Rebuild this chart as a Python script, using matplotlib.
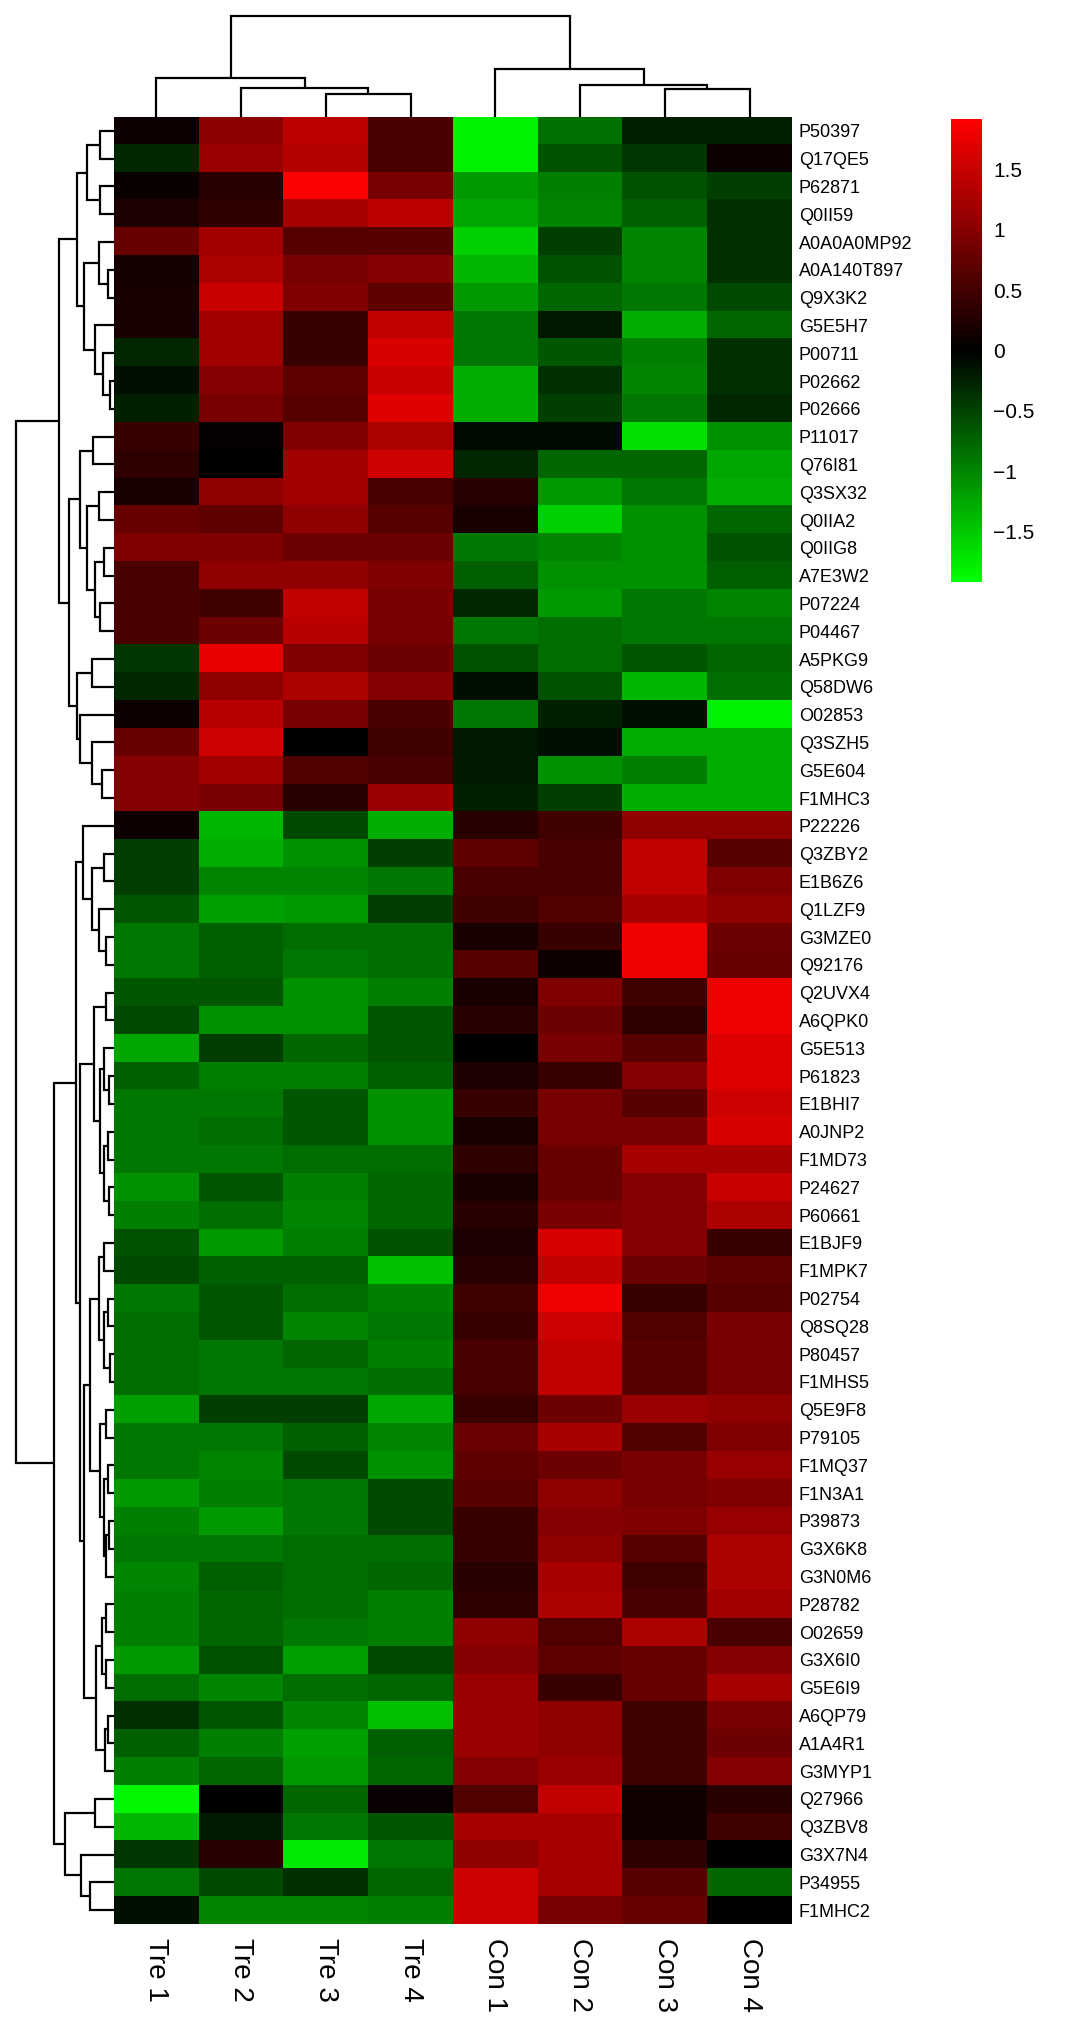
import numpy as np
import matplotlib
matplotlib.use("Agg")
import matplotlib.pyplot as plt
from matplotlib.colors import LinearSegmentedColormap

plt.rcParams['font.family'] = ['Liberation Sans', 'DejaVu Sans']

# ---------------- data ----------------
samples = ['Tre 1', 'Tre 2', 'Tre 3', 'Tre 4', 'Con 1', 'Con 2', 'Con 3', 'Con 4']

proteins = ['P50397', 'Q17QE5', 'P62871', 'Q0II59', 'A0A0A0MP92', 'A0A140T897', 'Q9X3K2',
            'G5E5H7', 'P00711', 'P02662', 'P02666', 'P11017', 'Q76I81', 'Q3SX32', 'Q0IIA2',
            'Q0IIG8', 'A7E3W2', 'P07224', 'P04467', 'A5PKG9', 'Q58DW6', 'O02853', 'Q3SZH5',
            'G5E604', 'F1MHC3', 'P22226', 'Q3ZBY2', 'E1B6Z6', 'Q1LZF9', 'G3MZE0', 'Q92176',
            'Q2UVX4', 'A6QPK0', 'G5E513', 'P61823', 'E1BHI7', 'A0JNP2', 'F1MD73', 'P24627',
            'P60661', 'E1BJF9', 'F1MPK7', 'P02754', 'Q8SQ28', 'P80457', 'F1MHS5', 'Q5E9F8',
            'P79105', 'F1MQ37', 'F1N3A1', 'P39873', 'G3X6K8', 'G3N0M6', 'P28782', 'O02659',
            'G3X6I0', 'G5E6I9', 'A6QP79', 'A1A4R1', 'G3MYP1', 'Q27966', 'Q3ZBV8', 'G3X7N4',
            'P34955', 'F1MHC2']

values = [
    [0.10, 1.05, 1.40, 0.55, -1.80, -0.85, -0.25, -0.25],
    [-0.30, 1.15, 1.35, 0.55, -1.80, -0.60, -0.42, 0.10],
    [0.08, 0.30, 1.90, 0.90, -1.15, -0.95, -0.60, -0.48],
    [0.22, 0.35, 1.25, 1.40, -1.25, -1.00, -0.72, -0.35],
    [0.78, 1.20, 0.65, 0.65, -1.55, -0.48, -1.00, -0.35],
    [0.15, 1.30, 0.90, 1.00, -1.38, -0.60, -1.00, -0.35],
    [0.18, 1.50, 0.95, 0.72, -1.15, -0.78, -0.90, -0.55],
    [0.18, 1.20, 0.42, 1.45, -0.90, -0.18, -1.30, -0.78],
    [-0.30, 1.20, 0.42, 1.62, -0.90, -0.65, -0.95, -0.35],
    [-0.12, 1.00, 0.72, 1.50, -1.30, -0.35, -1.00, -0.35],
    [-0.25, 0.90, 0.65, 1.68, -1.30, -0.48, -0.90, -0.30],
    [0.42, 0.05, 0.95, 1.30, -0.08, -0.08, -1.68, -1.08],
    [0.35, 0.00, 1.20, 1.55, -0.30, -0.78, -0.78, -1.25],
    [0.18, 1.08, 1.20, 0.55, 0.30, -1.15, -0.90, -1.30],
    [0.78, 0.72, 1.08, 0.65, 0.18, -1.55, -1.08, -0.78],
    [0.95, 0.95, 0.82, 0.82, -0.90, -1.00, -1.08, -0.60],
    [0.55, 1.08, 1.08, 0.95, -0.72, -1.08, -1.08, -0.72],
    [0.55, 0.48, 1.45, 0.90, -0.30, -1.15, -0.90, -1.00],
    [0.55, 0.82, 1.38, 0.90, -0.90, -0.82, -0.90, -0.90],
    [-0.42, 1.75, 0.95, 0.82, -0.60, -0.82, -0.65, -0.78],
    [-0.30, 1.08, 1.30, 1.00, -0.12, -0.60, -1.38, -0.82],
    [0.10, 1.38, 0.90, 0.55, -0.90, -0.25, -0.12, -1.80],
    [0.78, 1.55, 0.00, 0.48, -0.18, -0.12, -1.30, -1.30],
    [1.00, 1.20, 0.60, 0.55, -0.18, -1.08, -0.95, -1.30],
    [1.00, 0.90, 0.30, 1.15, -0.25, -0.48, -1.30, -1.30],
    [0.10, -1.38, -0.55, -1.30, 0.30, 0.48, 1.08, 1.08],
    [-0.48, -1.30, -1.08, -0.48, 0.72, 0.55, 1.45, 0.65],
    [-0.48, -1.00, -1.00, -0.90, 0.55, 0.55, 1.45, 0.95],
    [-0.65, -1.20, -1.15, -0.48, 0.48, 0.60, 1.25, 1.08],
    [-0.90, -0.72, -0.82, -0.82, 0.18, 0.42, 1.80, 0.82],
    [-0.90, -0.72, -0.90, -0.82, 0.65, 0.10, 1.80, 0.78],
    [-0.65, -0.65, -1.08, -0.95, 0.18, 0.95, 0.48, 1.80],
    [-0.55, -1.08, -1.08, -0.65, 0.30, 0.82, 0.35, 1.80],
    [-1.25, -0.48, -0.78, -0.65, 0.00, 0.90, 0.65, 1.68],
    [-0.72, -0.95, -0.95, -0.72, 0.22, 0.42, 1.00, 1.68],
    [-0.90, -0.90, -0.65, -1.08, 0.42, 0.90, 0.65, 1.55],
    [-0.90, -0.82, -0.65, -1.08, 0.18, 0.90, 0.90, 1.62],
    [-0.90, -0.90, -0.82, -0.82, 0.35, 0.78, 1.25, 1.25],
    [-1.08, -0.65, -0.95, -0.78, 0.18, 0.78, 1.00, 1.50],
    [-0.95, -0.82, -1.00, -0.78, 0.30, 0.90, 1.00, 1.30],
    [-0.60, -1.15, -0.95, -0.60, 0.22, 1.62, 1.00, 0.42],
    [-0.55, -0.72, -0.72, -1.45, 0.30, 1.45, 0.82, 0.72],
    [-0.90, -0.65, -0.82, -0.95, 0.48, 1.80, 0.42, 0.65],
    [-0.82, -0.65, -1.00, -0.90, 0.42, 1.55, 0.60, 0.90],
    [-0.82, -0.90, -0.78, -0.95, 0.55, 1.45, 0.65, 0.90],
    [-0.82, -0.90, -0.90, -0.82, 0.55, 1.45, 0.65, 0.90],
    [-1.20, -0.48, -0.48, -1.25, 0.42, 0.82, 1.15, 1.08],
    [-0.90, -0.90, -0.72, -1.00, 0.82, 1.25, 0.60, 0.95],
    [-0.90, -1.00, -0.55, -1.08, 0.72, 0.82, 0.90, 1.15],
    [-1.15, -0.95, -0.90, -0.55, 0.65, 1.08, 0.90, 0.95],
    [-0.95, -1.15, -0.90, -0.55, 0.42, 1.00, 0.95, 1.15],
    [-0.90, -0.90, -0.82, -0.82, 0.42, 1.08, 0.65, 1.30],
    [-1.00, -0.72, -0.82, -0.78, 0.30, 1.25, 0.48, 1.30],
    [-0.95, -0.78, -0.82, -0.95, 0.35, 1.30, 0.55, 1.20],
    [-0.95, -0.78, -0.90, -0.95, 1.08, 0.60, 1.30, 0.55],
    [-1.15, -0.60, -1.20, -0.55, 1.00, 0.72, 0.78, 1.00],
    [-0.82, -1.00, -0.82, -0.78, 1.15, 0.42, 0.78, 1.25],
    [-0.35, -0.65, -1.00, -1.45, 1.15, 1.08, 0.48, 0.90],
    [-0.72, -0.95, -1.20, -0.72, 1.15, 1.08, 0.48, 0.82],
    [-0.95, -0.78, -1.15, -0.78, 1.00, 1.15, 0.48, 1.00],
    [-1.85, -0.02, -0.78, 0.06, 0.60, 1.45, 0.12, 0.30],
    [-1.38, -0.20, -0.90, -0.65, 1.25, 1.25, 0.12, 0.48],
    [-0.42, 0.30, -1.75, -0.90, 1.08, 1.25, 0.35, 0.00],
    [-0.90, -0.55, -0.35, -0.78, 1.55, 1.25, 0.65, -0.78],
    [-0.12, -1.00, -1.00, -0.95, 1.55, 0.90, 0.78, 0.00],
]

# column clustering tree: (left, right, merge height)
col_tree = ((0, (1, (2, 3, 68), 88), 115), (4, (5, (6, 7, 85), 95), 143), 303)

# row clustering tree (leaf = row index, top to bottom)
row_U1 = (((0, 1, 13.7), (2, 3, 13.7), 27),
          ((4, (5, 6, 6), 15.3), (7, (8, (9, 10, 3.7), 11.3), 18.7), 30.3), 37)
row_U2 = (((11, 12, 21.3), ((13, 14, 15.3), ((15, 16, 10.3), (17, 18, 13.7), 18.7), 27), 33.7),
          ((19, 20, 22), (21, (22, (23, 24, 12.3), 22), 33.7), 37), 45.3)
row_A = (25, ((26, 27, 10), (28, (29, 30, 8), 15), 22), 31)
row_B1 = ((31, 32, 8), ((33, (34, 35, 5), 10), ((36, 37, 6), (38, 39, 5), 10), 14), 20)
row_B2a = ((40, 41, 10), ((42, 43, 6), (44, 45, 4), 10), 15)
row_B2b = ((46, 47, 8), ((48, 49, 6), ((50, 51, 5), 52, 8), 10), 14)
row_B2c = (((53, 54, 8), (55, 56, 8), 12), ((57, 58, 6), 59, 9), 18)
row_L2 = ((60, 61, 18.7), (62, (63, 64, 23.7), 33), 48.7)
row_tree = ((row_U1, row_U2, 55.3),
            (((row_A, (row_B1, ((row_B2a, row_B2b, 24), row_B2c, 30), 34), 38)), row_L2, 60.3),
            98.5)

cbar_ticks = [-1.5, -1, -0.5, 0, 0.5, 1, 1.5]
cbar_labels = ['\u22121.5', '\u22121', '\u22120.5', '0', '0.5', '1', '1.5']
vlim = 1.92

# ---------------- figure ----------------
W, H = 1065, 2030
fig = plt.figure(figsize=(W / 100, H / 100), dpi=100)


def box(x0, y0, x1, y1):
    return [x0 / W, 1 - y1 / H, (x1 - x0) / W, (y1 - y0) / H]


hm_l, hm_r, hm_t, hm_b = 114, 792, 117, 1924

data = np.array(values)
nrow, ncol = data.shape
cmap = LinearSegmentedColormap.from_list('gbr', ['#00FF00', '#000000', '#FF0000'])

ax = fig.add_axes(box(hm_l, hm_t, hm_r, hm_b))
im = ax.imshow(data, cmap=cmap, vmin=-vlim, vmax=vlim, aspect='auto',
               interpolation='nearest', extent=(0, ncol, nrow, 0))
for s in ax.spines.values():
    s.set_visible(False)
ax.yaxis.tick_right()
ax.set_yticks(np.arange(nrow) + 0.5)
ax.set_yticklabels(proteins, fontsize=13)
ax.set_xticks(np.arange(ncol) + 0.5)
ax.set_xticklabels(samples, fontsize=20, rotation=270, va='top', ha='center')
ax.tick_params(axis='both', length=0)
ax.tick_params(axis='y', pad=5)
ax.tick_params(axis='x', pad=10)


def draw_tree(axd, tree, orient):
    def rec(node):
        if isinstance(node, int):
            return node + 0.5, 0.0
        l, r, h = node
        pl, hl = rec(l)
        pr, hr = rec(r)
        if orient == 'top':
            axd.plot([pl, pl, pr, pr], [hl, h, h, hr], color='black', lw=1.6,
                     solid_joinstyle='miter', solid_capstyle='butt')
        else:
            axd.plot([hl, h, h, hr], [pl, pl, pr, pr], color='black', lw=1.6,
                     solid_joinstyle='miter', solid_capstyle='butt')
        return (pl + pr) / 2, h
    rec(tree)


# column dendrogram
axc = fig.add_axes(box(hm_l, 0, hm_r, hm_t))
draw_tree(axc, col_tree, 'top')
axc.set_xlim(0, ncol)
axc.set_ylim(0, 303 * hm_t / 101.5)
axc.axis('off')

# row dendrogram
axr = fig.add_axes(box(0, hm_t, hm_l, hm_b))
draw_tree(axr, row_tree, 'left')
axr.set_ylim(nrow, 0)
axr.set_xlim(hm_l, 0)
axr.axis('off')

# colorbar
cax = fig.add_axes(box(951, 119, 982, 582))
cb = fig.colorbar(im, cax=cax)
cb.outline.set_visible(False)
cb.set_ticks(cbar_ticks)
cb.set_ticklabels(cbar_labels)
cax.tick_params(length=0, labelsize=15, pad=8)

fig.savefig('out.png', dpi=100)
